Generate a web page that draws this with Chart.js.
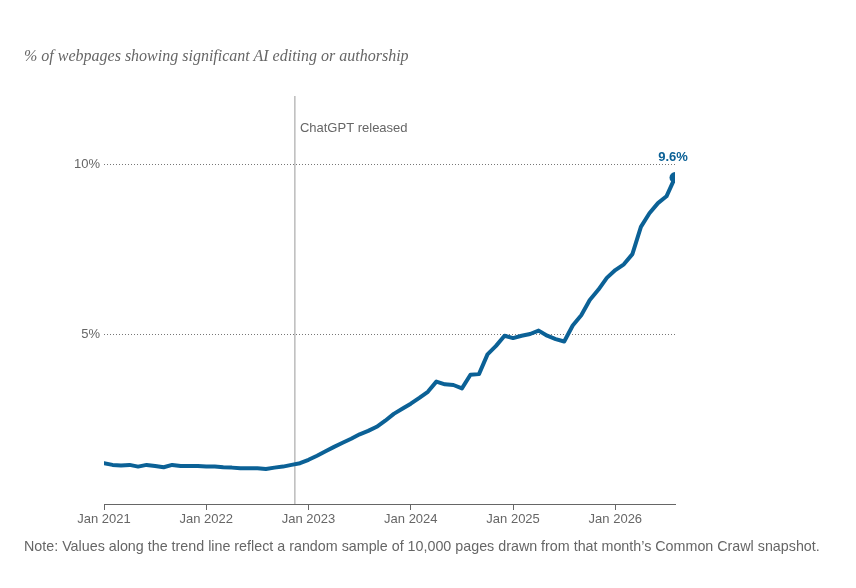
<!DOCTYPE html>
<html><head><meta charset="utf-8">
<script src="https://cdn.jsdelivr.net/npm/chart.js@4"></script>
<style>
body{margin:0;width:856px;height:588px;background:#fff;position:relative;overflow:hidden}
#t{position:absolute;left:24px;top:47px;font:italic 16px "Liberation Serif",Georgia,serif;color:#666}
#n{position:absolute;left:24px;top:538px;font:14.3px "Liberation Sans",Arial,sans-serif;color:#666}
#w{position:absolute;left:0;top:0;width:856px;height:588px}
</style></head><body>
<div id="w"><canvas id="c"></canvas></div>
<div id="t">% of webpages showing significant AI editing or authorship</div>
<div id="n">Note: Values along the trend line reflect a random sample of 10,000 pages drawn from that month’s Common Crawl snapshot.</div>
<script>
const tickLabels = ["Jan 2021","Jan 2022","Jan 2023","Jan 2024","Jan 2025","Jan 2026"];
const values = [
 1.2,1.15,1.13,1.15,1.1,1.15,1.12,1.08,1.15,1.12,1.12,1.12,
 1.1,1.1,1.08,1.07,1.05,1.05,1.05,1.03,1.07,1.1,1.15,1.2,
 1.3,1.42,1.55,1.68,1.8,1.92,2.05,2.15,2.27,2.45,2.65,2.8,
 2.95,3.12,3.3,3.6,3.52,3.5,3.4,3.8,3.82,4.4,4.65,4.95,
 4.88,4.95,5.0,5.1,4.95,4.85,4.78,5.25,5.55,6.0,6.3,6.65,
 6.88,7.05,7.35,8.15,8.55,8.85,9.05,9.6
];
const releaseMonth = 22.4;
const pts = values.map((v,i)=>({x:i,y:v}));
const last = pts[pts.length-1];
const C = '#0b6196';
const labelPlugin = {id:'lbl',afterDatasetsDraw(ch){
  const {ctx,scales:{x,y}}=ch;
  ctx.save();
  ctx.font='13px "Liberation Sans",Arial,sans-serif';ctx.fillStyle='#666';ctx.textBaseline='middle';
  ctx.fillText('ChatGPT released',x.getPixelForValue(releaseMonth)+5,y.getPixelForValue(11.05));
  ctx.font='bold 13px "Liberation Sans",Arial,sans-serif';ctx.fillStyle=C;ctx.textAlign='center';
  ctx.fillText(last.y+'%',x.getPixelForValue(last.x)-2,y.getPixelForValue(last.y)-20);
  ctx.restore();
}};
new Chart(document.getElementById('c'),{
 type:'line',
 data:{datasets:[
  {data:pts,borderColor:C,borderWidth:4,pointRadius:pts.map((p,i)=>i===pts.length-1?5.5:0),pointBackgroundColor:C,pointBorderWidth:0,tension:0,borderJoinStyle:'round',borderCapStyle:'round'},
  {data:[{x:releaseMonth,y:0},{x:releaseMonth,y:12}],borderColor:'#999',borderWidth:1,pointRadius:0}
 ]},
 options:{animation:false,responsive:true,maintainAspectRatio:false,
  layout:{padding:{left:44,right:181,top:96,bottom:54}},
  plugins:{legend:{display:false},tooltip:{enabled:false}},
  scales:{
   x:{type:'linear',min:0,max:67,afterFit:s=>{s.height=30},
      afterBuildTicks:s=>{s.ticks=tickLabels.map((l,i)=>({value:i*12}))},
      ticks:{callback:(v)=>tickLabels[v/12],color:'#666',font:{size:13,family:'"Liberation Sans",Arial'},maxRotation:0,padding:2},
      grid:{drawOnChartArea:false,drawTicks:true,tickLength:6,color:'#666'},border:{color:'#666'}},
   y:{min:0,max:12,afterFit:s=>{s.width=60},
      afterBuildTicks:s=>{s.ticks=[{value:5},{value:10}]},
      ticks:{callback:v=>v+'%',color:'#666',font:{size:13,family:'"Liberation Sans",Arial'},padding:4},
      grid:{color:'#777',drawTicks:false},border:{display:false,dash:[1,2]}}
  }},
 plugins:[labelPlugin]
});
</script>
</body></html>
